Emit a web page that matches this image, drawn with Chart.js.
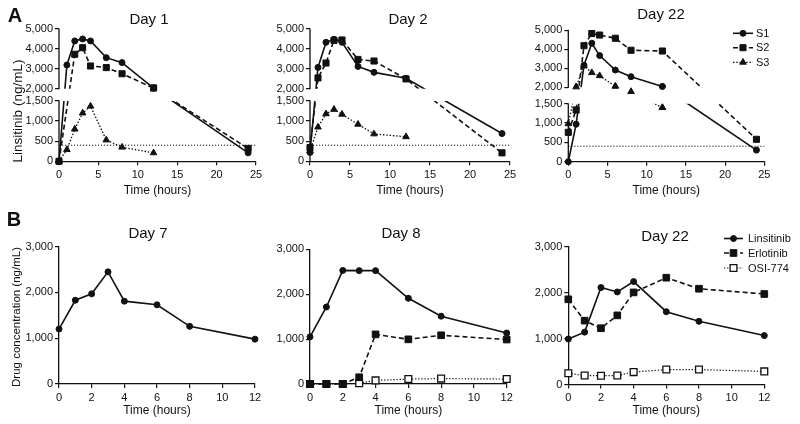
<!DOCTYPE html>
<html>
<head>
<meta charset="utf-8">
<script src="https://cdn.jsdelivr.net/npm/chart.js@4.4.0/dist/chart.umd.min.js"></script>
<style>
html,body{margin:0;padding:0;background:#fff;}
#wrap{position:relative;width:800px;height:424px;overflow:hidden;font-family:"Liberation Sans",Arial,Helvetica,sans-serif;color:#111;}
canvas{position:absolute;left:0;top:0;}
.lbl{position:absolute;transform:translate(-50%,-50%);white-space:nowrap;line-height:1;}
.rot{transform:translate(-50%,-50%) rotate(-90deg);}
</style>
</head>
<body>
<div id="wrap">
  <canvas id="c1" width="800" height="424"></canvas>
  <canvas id="c2" width="800" height="424"></canvas>
  <canvas id="c3" width="800" height="424"></canvas>
  <canvas id="c4" width="800" height="424"></canvas>
  <canvas id="c5" width="800" height="424"></canvas>
  <canvas id="c6" width="800" height="424"></canvas>
  <div class="lbl" style="left:15px;top:15px;font-size:20px;font-weight:bold;">A</div>
  <div class="lbl" style="left:14px;top:219px;font-size:20px;font-weight:bold;">B</div>
  <div class="lbl rot" style="left:18px;top:111px;font-size:13.5px;">Linsitinib (ng/mL)</div>
  <div class="lbl rot" style="left:17px;top:317px;font-size:11.5px;">Drug concentration (ng/mL)</div>
</div>
<script>
const FONT = '"Liberation Sans", Arial, Helvetica, sans-serif';
const INK = '#111';
Chart.defaults.font.family = FONT;
Chart.defaults.color = INK;

// ---------- DATA ----------
const timeA = [0, 1, 2, 3, 4, 6, 8, 12, 24];
const timeB = [0, 1, 2, 3, 4, 6, 8, 12];
const lloqTime = [0, 25];
const lloqValue = [400, 400];

const day1S1 = [0, 3190, 4400, 4500, 4400, 3560, 3310, 2030, 210];
const day1S2 = [0, null, 3730, 4060, 3140, 3060, 2750, 2030, 320];
const day1S3 = [0, 290, 800, 1200, 1370, 530, 350, 210, null];

const day2S1 = [220, 3070, 4330, 4480, 4330, 3120, 2820, 2520, 690];
const day2S2 = [340, 2540, 3290, 4430, 4450, 3470, 3390, 2490, 210];
const day2S3 = [260, 850, 1180, 1290, 1170, 920, 680, 610, null];

const day22aS1 = [0, 970, 3160, 4320, 3670, 2910, 2560, 2040, 300];
const day22aS2 = [760, 1340, 4190, 4830, 4750, 4580, 3950, 3910, 580];
const day22aS3 = [980, 2020, 3140, 2770, 2610, 2050, 1870, 1400, null];

const day7Lin = [1200, 1830, 1970, 2450, 1810, 1730, 1260, 980];

const day8Lin = [1050, 1715, 2530, 2525, 2525, 1910, 1510, 1135];
const day8Erl = [0, 0, 0, 150, 1105, 995, 1085, 990];
const day8Osi = [0, 0, 0, 15, 80, 110, 120, 110];

const day22bLin = [990, 1140, 2110, 2015, 2240, 1585, 1375, 1065];
const day22bErl = [1855, 1390, 1225, 1505, 2005, 2325, 2085, 1970];
const day22bOsi = [245, 195, 190, 195, 270, 325, 325, 285];

const xTicksA = [0, 5, 10, 15, 20, 25];
const yTicksA = [0, 500, 1000, 1500, 2000, 3000, 4000, 5000];
const xTicksB = [0, 2, 4, 6, 8, 10, 12];
const yTicksB = [0, 1000, 2000, 3000];

// ---------- scales ----------
class FreeLinear extends Chart.LinearScale {
  _computeLabelArea() { return undefined; }
}
FreeLinear.id = 'freeLinear';
FreeLinear.defaults = {};

const BREAK_LOW = 1500, BREAK_HIGH = 2000;
class BrokenScale extends FreeLinear {
  getPixelForValue(value) {
    if (value === null || value === undefined || isNaN(value)) return NaN;
    const lo = this.options.lowFrac, gap = this.options.gapFrac, up = 1 - lo - gap;
    let f;
    if (value <= BREAK_LOW) f = value / BREAK_LOW * lo;
    else if (value <= BREAK_HIGH) f = lo + (value - BREAK_LOW) / (BREAK_HIGH - BREAK_LOW) * gap;
    else f = lo + gap + (value - BREAK_HIGH) / (this.max - BREAK_HIGH) * up;
    return this.bottom - f * (this.bottom - this.top);
  }
  getValueForPixel(pixel) {
    const lo = this.options.lowFrac, gap = this.options.gapFrac, up = 1 - lo - gap;
    const f = (this.bottom - pixel) / (this.bottom - this.top);
    if (f <= lo) return f / lo * BREAK_LOW;
    if (f <= lo + gap) return BREAK_LOW + (f - lo) / gap * (BREAK_HIGH - BREAK_LOW);
    return BREAK_HIGH + (f - lo - gap) / up * (this.max - BREAK_HIGH);
  }
}
BrokenScale.id = 'broken';
BrokenScale.defaults = {};
Chart.register(FreeLinear, BrokenScale);

function marker(ctx, style, r, x, y) {
  ctx.beginPath();
  if (style === 'circle') {
    ctx.arc(x, y, r, 0, Math.PI * 2);
  } else if (style === 'rect') {
    const s = Math.SQRT1_2 * r;
    ctx.rect(x - s, y - s, 2 * s, 2 * s);
  } else {
    let a = 0;
    ctx.moveTo(x + Math.sin(a) * r, y - Math.cos(a) * r);
    a += 2 * Math.PI / 3;
    ctx.lineTo(x + Math.sin(a) * r, y - Math.cos(a) * r);
    a += 2 * Math.PI / 3;
    ctx.lineTo(x + Math.sin(a) * r, y - Math.cos(a) * r);
    ctx.closePath();
  }
  ctx.fill();
  ctx.stroke();
}

const brokenPlugin = {
  id: 'brokenAxis',
  beforeDatasetDraw(chart) {
    const y = chart.scales.y;
    if (!(y instanceof BrokenScale)) return;
    const a = chart.chartArea, ctx = chart.ctx;
    const pHi = y.getPixelForValue(BREAK_HIGH), pLo = y.getPixelForValue(BREAK_LOW);
    ctx.save();
    ctx.beginPath();
    ctx.rect(a.left - 10, a.top - 10, a.right - a.left + 20, pHi - a.top + 10);
    ctx.rect(a.left - 10, pLo, a.right - a.left + 20, a.bottom - pLo + 10);
    ctx.clip();
  },
  afterDatasetDraw(chart, args) {
    const y = chart.scales.y;
    if (!(y instanceof BrokenScale)) return;
    const ctx = chart.ctx;
    ctx.restore();
    const pHi = y.getPixelForValue(BREAK_HIGH), pLo = y.getPixelForValue(BREAK_LOW);
    args.meta.data.forEach(pt => {
      if (!pt.skip && pt.y > pHi - 5 && pt.y < pLo + 5) pt.draw(ctx, chart.chartArea);
    });
  },
  afterDraw(chart) {
    const y = chart.scales.y;
    if (!(y instanceof BrokenScale)) return;
    const a = chart.chartArea, ctx = chart.ctx;
    const pHi = y.getPixelForValue(BREAK_HIGH), pLo = y.getPixelForValue(BREAK_LOW);
    ctx.save();
    ctx.strokeStyle = INK;
    ctx.lineWidth = 1.3;
    ctx.beginPath();
    ctx.moveTo(a.left, a.top - 0.6);
    ctx.lineTo(a.left, pHi + 0.6);
    ctx.moveTo(a.left, pLo - 0.6);
    ctx.lineTo(a.left, a.bottom + 0.6);
    ctx.stroke();
    ctx.restore();
  }
};
Chart.register(brokenPlugin);

const legendPlugin = {
  id: 'seriesLegend',
  afterDraw(chart, args, opts) {
    if (!opts || !opts.rows) return;
    const ctx = chart.ctx;
    const items = chart.data.datasets.filter(d => !d.noLegend);
    items.forEach((d, i) => {
      const y = opts.rows[i];
      ctx.save();
      ctx.strokeStyle = d.borderColor;
      ctx.lineWidth = d.borderWidth;
      ctx.setLineDash(d.borderDash || []);
      ctx.beginPath();
      ctx.moveTo(opts.x1, y);
      ctx.lineTo(opts.x2, y);
      ctx.stroke();
      ctx.setLineDash([]);
      ctx.fillStyle = d.pointBackgroundColor;
      ctx.strokeStyle = d.pointBorderColor;
      ctx.lineWidth = d.pointBorderWidth;
      marker(ctx, d.pointStyle, d.pointRadius, (opts.x1 + opts.x2) / 2, y);
      ctx.fillStyle = INK;
      ctx.font = opts.size + 'px ' + FONT;
      ctx.textBaseline = 'middle';
      ctx.textAlign = 'left';
      ctx.fillText(d.label, opts.tx, y + 0.5);
      ctx.restore();
    });
  }
};
Chart.register(legendPlugin);

// ---------- datasets ----------
const STY = {
  solid:  { borderDash: [], borderWidth: 1.6, pointStyle: 'circle', pointRadius: 3 },
  dashed: { borderDash: [5, 3], borderWidth: 1.6, pointStyle: 'rect', pointRadius: 4.3 },
  dotted: { borderDash: [1.5, 1.8], borderWidth: 1.3, pointStyle: 'triangle', pointRadius: 3.8 },
  open:   { borderDash: [1.3, 1.8], borderWidth: 1.2, pointStyle: 'rect', pointRadius: 4.8,
            pointBackgroundColor: '#fff', pointBorderWidth: 1.3 }
};
function series(label, xs, ys, style, extra) {
  return Object.assign({
    label: label,
    data: xs.map((x, i) => ({ x: x, y: ys[i] })),
    borderColor: INK, backgroundColor: INK,
    pointBackgroundColor: INK, pointBorderColor: INK, pointBorderWidth: 1,
    pointHoverRadius: 0, spanGaps: true, clip: false, tension: 0, fill: false
  }, STY[style], extra || {});
}
function lloq() {
  return {
    label: 'LLOQ', noLegend: true,
    data: lloqTime.map((x, i) => ({ x: x, y: lloqValue[i] })),
    borderColor: INK, borderWidth: 1, borderDash: [1.2, 1.8],
    pointRadius: 0, clip: false, fill: false
  };
}

function makeChart(id, cfg) {
  return new Chart(document.getElementById(id), {
    type: 'line',
    data: { datasets: cfg.datasets },
    options: {
      responsive: false, animation: false, devicePixelRatio: 1, events: [],
      layout: { padding: cfg.pad },
      plugins: {
        legend: { display: false }, tooltip: { enabled: false },
        title: { display: true, text: cfg.title, color: INK,
                 font: { size: 15, weight: 'normal', family: FONT },
                 padding: { top: 0, bottom: cfg.titleGap } },
        seriesLegend: cfg.legend || {}
      },
      scales: {
        x: {
          type: 'linear', min: 0, max: cfg.xMax,
          afterBuildTicks: s => { s.ticks = cfg.xTicks.map(v => ({ value: v })); },
          ticks: { font: { size: 11 }, color: INK, padding: 3, maxRotation: 0, autoSkip: false },
          grid: { display: true, drawOnChartArea: false, drawTicks: true, tickLength: 4, color: INK, lineWidth: 1.2 },
          border: { display: true, color: INK, width: 1.3 },
          title: { display: true, text: 'Time (hours)', color: INK, font: { size: 12 }, padding: { top: 0, bottom: 0 } },
          afterFit: s => { s.height = cfg.xH; }
        },
        y: {
          type: cfg.broken ? 'broken' : 'freeLinear', min: 0, max: cfg.yMax,
          lowFrac: cfg.lowFrac, gapFrac: cfg.gapFrac,
          afterBuildTicks: s => { s.ticks = cfg.yTicks.map(v => ({ value: v })); },
          ticks: { font: { size: 11 }, color: INK, padding: 2, autoSkip: false,
                   callback: v => Number(v).toLocaleString('en-US') },
          grid: { display: true, drawOnChartArea: false, drawTicks: true, tickLength: 4, color: INK, lineWidth: 1.2 },
          border: { display: !cfg.broken, color: INK, width: 1.3 },
          afterFit: s => { s.width = cfg.yW; }
        }
      }
    }
  });
}

const commonA = { broken: true, yMax: 5000, yTicks: yTicksA, xMax: 25, xTicks: xTicksA };
const commonB = { broken: false, yMax: 3000, yTicks: yTicksB, xMax: 12, xTicks: xTicksB };

makeChart('c1', Object.assign({}, commonA, {
  title: 'Day 1', pad: { left: 42, right: 544, top: 11, bottom: 226 }, titleGap: 0,
  xH: 36.7, yW: 17, lowFrac: 0.456, gapFrac: 0.093,
  datasets: [
    series('S1', timeA, day1S1, 'solid'),
    series('S2', timeA, day1S2, 'dashed'),
    series('S3', timeA, day1S3, 'dotted'),
    lloq()
  ]
}));
makeChart('c2', Object.assign({}, commonA, {
  title: 'Day 2', pad: { left: 306, right: 290, top: 11, bottom: 226 }, titleGap: 0,
  xH: 36.7, yW: 4, lowFrac: 0.456, gapFrac: 0.093,
  datasets: [
    series('S1', timeA, day2S1, 'solid'),
    series('S2', timeA, day2S2, 'dashed'),
    series('S3', timeA, day2S3, 'dotted'),
    lloq()
  ]
}));
makeChart('c3', Object.assign({}, commonA, {
  title: 'Day 22', pad: { left: 557.7, right: 35.7, top: 6, bottom: 226 }, titleGap: 6.3,
  xH: 36.3, yW: 10.6, lowFrac: 0.441, gapFrac: 0.125,
  legend: { rows: [33.3, 47.7, 62.3], x1: 733, x2: 753, tx: 756, size: 11 },
  datasets: [
    series('S1', timeA, day22aS1, 'solid'),
    series('S2', timeA, day22aS2, 'dashed'),
    series('S3', timeA, day22aS3, 'dotted'),
    lloq()
  ]
}));
makeChart('c4', Object.assign({}, commonB, {
  title: 'Day 7', pad: { left: 41, right: 545, top: 225, bottom: 5.8 }, titleGap: 3.7,
  xH: 34.2, yW: 18,
  datasets: [
    series('Linsitinib', timeB, day7Lin, 'solid')
  ]
}));
makeChart('c5', Object.assign({}, commonB, {
  title: 'Day 8', pad: { left: 295.3, right: 293.3, top: 225, bottom: 5.8 }, titleGap: 6.3,
  xH: 34.2, yW: 14.7,
  datasets: [
    series('Linsitinib', timeB, day8Lin, 'solid'),
    series('Erlotinib', timeB, day8Erl, 'dashed', { pointRadius: 4.7 }),
    series('OSI-774', timeB, day8Osi, 'open')
  ]
}));
makeChart('c6', Object.assign({}, commonB, {
  title: 'Day 22', pad: { left: 565.7, right: 35.7, top: 228, bottom: 5.8 }, titleGap: 0.7,
  xH: 33.7, yW: 2.6,
  legend: { rows: [238.5, 253, 268], x1: 724, x2: 743, tx: 748, size: 11 },
  datasets: [
    series('Linsitinib', timeB, day22bLin, 'solid'),
    series('Erlotinib', timeB, day22bErl, 'dashed', { pointRadius: 4.7 }),
    series('OSI-774', timeB, day22bOsi, 'open')
  ]
}));
</script>
</body>
</html>
